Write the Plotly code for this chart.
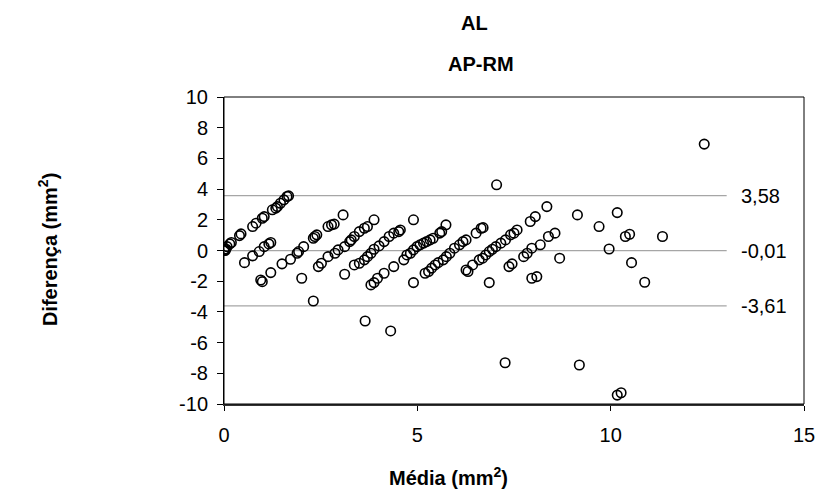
import plotly.graph_objects as go

# Bland-Altman data: mean (x) and difference (y)
media = [0.00, 0.02, 0.03, 0.05, 0.08, 0.15, 0.19, 0.40, 0.44, 0.74, 0.83, 0.99, 1.04, 1.25, 1.34, 1.38, 1.46, 1.55, 1.63, 1.67,
         0.53, 0.74, 0.91, 1.04, 1.16, 1.21, 0.95, 0.99, 1.21,
         1.50, 1.72, 1.89, 1.93, 2.06, 2.01, 2.31, 2.35, 2.40, 2.69, 2.78, 2.85, 3.08,
         2.44, 2.52, 2.69, 2.87, 2.95, 3.12, 3.25, 3.29, 3.37, 3.50, 3.63, 3.71, 3.88, 3.12,
         3.37, 3.50, 3.63, 3.71, 3.80, 3.88, 4.01, 4.14, 4.27, 4.39, 4.52, 4.56,
         3.80, 3.88, 3.97, 4.14, 4.39, 4.65, 4.73,
         4.90, 4.82, 4.90, 4.99, 5.07, 5.16, 5.24, 5.33, 5.41, 5.58, 5.63, 5.74,
         5.20, 5.29, 5.37, 5.46, 5.54, 5.67, 5.75, 5.84, 5.96, 6.09, 6.18, 6.26, 6.52, 6.65, 6.70,
         4.90,
         6.26, 6.31, 6.43, 6.60, 6.69, 6.77, 6.86, 6.94, 7.03, 7.16, 7.28, 7.41, 7.50, 7.58,
         6.86, 7.05,
         7.37, 7.45, 7.75, 7.84, 7.96, 8.18, 8.39, 8.56,
         7.92, 8.05, 8.35, 7.96, 8.09, 8.68, 9.14,
         12.42, 10.17, 9.70, 10.38, 10.49, 11.34, 9.96, 10.54, 10.88,
         2.31, 3.65, 4.31, 7.27, 9.19, 10.17, 10.27]
diferenca = [0.00, 0.08, 0.00, 0.10, 0.25, 0.43, 0.52, 0.97, 1.08, 1.56, 1.78, 2.10, 2.21, 2.65, 2.76, 2.86, 3.08, 3.30, 3.52, 3.56,
             -0.79, -0.35, -0.07, 0.25, 0.43, 0.52, -1.92, -2.03, -1.44,
             -0.87, -0.57, -0.18, -0.07, 0.25, -1.81, 0.80, 0.91, 1.02, 1.56, 1.67, 1.72, 2.32,
             -1.05, -0.83, -0.40, -0.18, 0.04, 0.25, 0.58, 0.69, 0.91, 1.23, 1.45, 1.56, 2.00, -1.55,
             -0.94, -0.83, -0.61, -0.40, -0.18, 0.08, 0.30, 0.58, 0.91, 1.13, 1.23, 1.34,
             -2.24, -2.09, -1.81, -1.48, -1.05, -0.61, -0.29,
             2.00, -0.18, 0.04, 0.25, 0.37, 0.48, 0.58, 0.69, 0.80, 1.13, 1.23, 1.67,
             -1.48, -1.37, -1.15, -0.94, -0.79, -0.61, -0.40, -0.18, 0.15, 0.37, 0.58, 0.69, 1.13, 1.45, 1.49,
             -2.09,
             -1.27, -1.37, -0.94, -0.61, -0.50, -0.29, -0.07, 0.08, 0.25, 0.48, 0.69, 1.02, 1.13, 1.34,
             -2.09, 4.28,
             -1.05, -0.87, -0.40, -0.18, 0.15, 0.37, 0.91, 1.13,
             1.89, 2.21, 2.86, -1.81, -1.70, -0.50, 2.32,
             6.93, 2.47, 1.56, 0.91, 1.06, 0.91, 0.10, -0.79, -2.07,
             -3.29, -4.59, -5.24, -7.31, -7.46, -9.42, -9.27]

limites = [3.58, -0.01, -3.61]      # upper LoA, mean difference, lower LoA
limite_x = [0, 13]                  # extent of the reference lines
x_ticks = [0, 5, 10, 15]
y_ticks = [10, 8, 6, 4, 2, 0, -2, -4, -6, -8, -10]

FONT = "Liberation Sans, Arial, sans-serif"
L, R, T, B = 224.3, 812.7, 97.3, 404.0
PW, PH = R - L, B - T

fig = go.Figure()

for v in limites:
    fig.add_trace(go.Scatter(x=limite_x, y=[v, v], mode="lines",
                             line=dict(color="#a6a6a6", width=1.3),
                             hoverinfo="skip", showlegend=False))

fig.add_trace(go.Scatter(x=media, y=diferenca, mode="markers",
                         marker=dict(symbol="circle-open", size=9.5, color="black",
                                     line=dict(width=1.6, color="black")),
                         showlegend=False))

for v in limites:
    fig.add_annotation(x=13.32, y=v, xref="x", yref="y",
                       text=f"{v:.2f}".replace(".", ","), showarrow=False,
                       xanchor="left", yanchor="middle",
                       font=dict(family=FONT, size=20, color="black"))

# plot border (top and right)
fig.add_shape(type="rect", xref="paper", yref="paper", x0=0, x1=1, y0=0, y1=1,
              line=dict(color="black", width=1), layer="above")

fig.add_annotation(text="<b>AL</b>", xref="paper", yref="paper",
                   x=(478 - L) / PW, y=(B - 23.5) / PH,
                   showarrow=False, xanchor="center", yanchor="middle",
                   font=dict(family=FONT, size=20, color="black"))
fig.add_annotation(text="<b>AP-RM</b>", xref="paper", yref="paper",
                   x=(485.5 - L) / PW, y=(B - 64.5) / PH,
                   showarrow=False, xanchor="center", yanchor="middle",
                   font=dict(family=FONT, size=20, color="black"))
fig.add_annotation(text="<b>Média (mm<sup>2</sup>)</b>", xref="paper", yref="paper",
                   x=(452 - L) / PW, y=(B - 476) / PH,
                   showarrow=False, xanchor="center", yanchor="middle",
                   font=dict(family=FONT, size=20, color="black"))
fig.add_annotation(text="<b>Diferença (mm<sup>2</sup>)</b>", xref="paper", yref="paper",
                   x=(46 - L) / PW, y=(B - 250) / PH, textangle=-90,
                   showarrow=False, xanchor="center", yanchor="middle",
                   font=dict(family=FONT, size=20, color="black"))

fig.update_layout(
    width=827, height=490,
    margin=dict(l=L, r=827 - R, t=T, b=490 - B),
    paper_bgcolor="white", plot_bgcolor="white",
    font=dict(family=FONT, size=20, color="black"),
    xaxis=dict(range=[0, 15], tickvals=x_ticks, ticktext=[str(t) for t in x_ticks],
               showgrid=False, zeroline=False, showline=True, linecolor="#333333",
               linewidth=2, ticks="outside", ticklen=5, tickcolor="black",
               ticklabelstandoff=7, tickfont=dict(size=20)),
    yaxis=dict(range=[-10, 10], tickvals=y_ticks, ticktext=[str(t) for t in y_ticks],
               showgrid=False, zeroline=False, showline=True, linecolor="black",
               linewidth=1, ticks="outside", ticklen=6, tickcolor="black",
               ticklabelstandoff=5, tickfont=dict(size=20)),
)

fig.write_html("out.html")
